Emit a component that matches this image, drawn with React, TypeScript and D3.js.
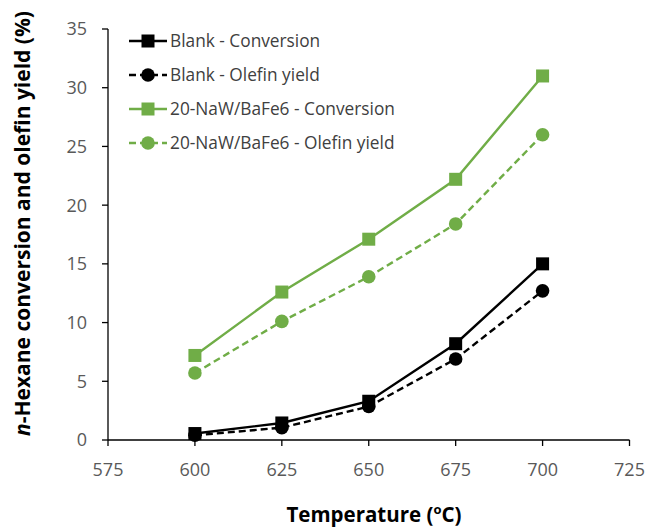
import React from "react";
import * as d3 from "d3";

const temperatures = [600, 625, 650, 675, 700];
const blankConversion = [0.55, 1.45, 3.3, 8.2, 15.0];
const blankOlefin = [0.4, 1.05, 2.85, 6.9, 12.7];
const nawConversion = [7.2, 12.6, 17.1, 22.2, 31.0];
const nawOlefin = [5.7, 10.1, 13.9, 18.4, 26.0];
const xTicks = [575, 600, 625, 650, 675, 700, 725];
const yTicks = [0, 5, 10, 15, 20, 25, 30, 35];

const GREEN = "#70AD47";
const FONT = "'Open Sans', sans-serif";

type Series = {
  name: string;
  values: number[];
  color: string;
  dashed: boolean;
  marker: "square" | "circle";
};

const series: Series[] = [
  { name: "Blank - Conversion", values: blankConversion, color: "#000", dashed: false, marker: "square" },
  { name: "Blank - Olefin yield", values: blankOlefin, color: "#000", dashed: true, marker: "circle" },
  { name: "20-NaW/BaFe6 - Conversion", values: nawConversion, color: GREEN, dashed: false, marker: "square" },
  { name: "20-NaW/BaFe6 - Olefin yield", values: nawOlefin, color: GREEN, dashed: true, marker: "circle" },
];

function Marker({ kind, x, y, color }: { kind: string; x: number; y: number; color: string }) {
  if (kind === "square") {
    return <rect x={x - 6.5} y={y - 6.5} width={13} height={13} fill={color} />;
  }
  return <circle cx={x} cy={y} r={6.8} fill={color} />;
}

export default function App() {
  const W = 647;
  const H = 530;
  const x = d3.scaleLinear().domain([575, 725]).range([108, 629.5]);
  const y = d3.scaleLinear().domain([0, 35]).range([440, 29]);

  const line = d3
    .line<number>()
    .x((_, i) => x(temperatures[i]))
    .y((d) => y(d));

  const legendRows = [41, 75, 109, 143];

  return (
    <svg
      width={W}
      height={H}
      style={{ position: "absolute", left: 0, top: 0, background: "#fff" }}
      fontFamily={FONT}
    >
      {/* y axis */}
      <line x1={x(575)} x2={x(575)} y1={y(35)} y2={y(0)} stroke="#000" strokeWidth={1.3} />
      {yTicks.map((t) => (
        <g key={"y" + t}>
          <line x1={x(575) - 6} x2={x(575)} y1={y(t)} y2={y(t)} stroke="#000" strokeWidth={1.3} />
          <text x={x(575) - 21} y={y(t)} dy="0.36em" textAnchor="end" fontSize={18} fill="#595959">
            {t}
          </text>
        </g>
      ))}
      {/* x axis */}
      <line x1={x(575)} x2={x(725)} y1={y(0)} y2={y(0)} stroke="#000" strokeWidth={1.3} />
      {xTicks.map((t) => (
        <g key={"x" + t}>
          <line x1={x(t)} x2={x(t)} y1={y(0)} y2={y(0) + 6} stroke="#000" strokeWidth={1.3} />
          <text x={x(t)} y={y(0) + 36} textAnchor="middle" fontSize={18} fill="#595959">
            {t}
          </text>
        </g>
      ))}

      {/* series */}
      {series.map((s) => (
        <g key={s.name}>
          <path
            d={line(s.values) ?? ""}
            fill="none"
            stroke={s.color}
            strokeWidth={2.4}
            strokeDasharray={s.dashed ? "7 4" : undefined}
          />
          {s.values.map((v, i) => (
            <Marker key={i} kind={s.marker} x={x(temperatures[i])} y={y(v)} color={s.color} />
          ))}
        </g>
      ))}

      {/* legend */}
      {series.map((s, i) => (
        <g key={"lg" + s.name} transform={`translate(0,${legendRows[i]})`}>
          <line
            x1={129}
            x2={167}
            y1={0}
            y2={0}
            stroke={s.color}
            strokeWidth={2.4}
            strokeDasharray={s.dashed ? "7 4" : undefined}
          />
          <Marker kind={s.marker} x={148} y={0} color={s.color} />
          <text x={170} y={0} dy="0.36em" fontSize={17.3} fill="#404040">
            {s.name}
          </text>
        </g>
      ))}

      {/* axis titles */}
      <text
        transform={`translate(30,${(12 + 435) / 2}) rotate(-90)`}
        textAnchor="middle"
        fontSize={21}
        fontWeight="bold"
        fill="#000"
      >
        <tspan fontStyle="italic">n</tspan>-Hexane conversion and olefin yield (%)
      </text>
      <text x={374} y={522} textAnchor="middle" fontSize={20.5} fontWeight="bold" fill="#000">
        Temperature (
        <tspan fontSize={13} dy={-8}>
          o
        </tspan>
        <tspan dy={8}>C)</tspan>
      </text>
    </svg>
  );
}
